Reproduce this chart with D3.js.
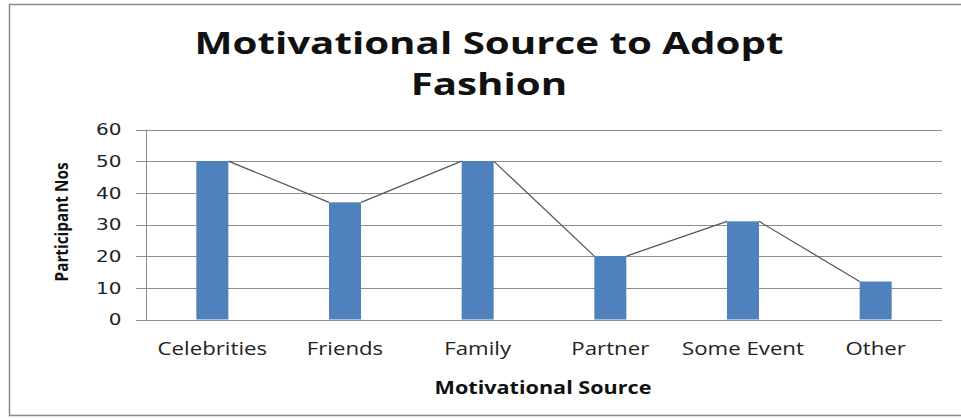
<!DOCTYPE html>
<html>
<head>
<meta charset="utf-8">
<script src="https://cdn.jsdelivr.net/npm/d3@7/dist/d3.min.js"></script>
<style>
  html, body { margin: 0; padding: 0; background: #fff; }
  svg { display: block; }
</style>
</head>
<body>
<svg id="chart" width="961" height="419"></svg>
<script>
// Participants by motivational source
const categories = ["Celebrities", "Friends", "Family", "Partner", "Some Event", "Other"];
const participants = [50, 37, 50, 20, 31, 12];
const yTicks = [0, 10, 20, 30, 40, 50, 60];
const titleLines = ["Motivational Source to Adopt", "Fashion"];

const svg = d3.select("#chart");
const W = 961;
const plot = { left: 146, right: 942, top: 129.5, bottom: 319.5 };
const widen = 1.27; // horizontal stretch applied to every horizontal label

// stretch a text horizontally by a fixed factor around its anchor
function stretch(sel, k) {
  sel.each(function () {
    const n = this.getComputedTextLength();
    d3.select(this).attr("textLength", n * k).attr("lengthAdjust", "spacingAndGlyphs");
  });
}

// outer frame
svg.append("rect")
  .attr("x", 9.5).attr("y", 4.5)
  .attr("width", W + 10).attr("height", 411)
  .attr("fill", "#fff").attr("stroke", "#8a8a8a").attr("stroke-width", 1.5);

const x = d3.scaleBand().domain(categories).range([plot.left, plot.right]).paddingInner(0).paddingOuter(0);
const y = d3.scaleLinear().domain([0, 60]).range([plot.bottom, plot.top]);
const barW = 32;

// horizontal gridlines with tick stubs
svg.append("g").selectAll("line").data(yTicks).join("line")
  .attr("x1", plot.left - 10).attr("x2", plot.right)
  .attr("y1", d => Math.round(y(d)) + 0.5).attr("y2", d => Math.round(y(d)) + 0.5)
  .attr("stroke", "#8c8c8c").attr("stroke-width", 1);

// y axis line
svg.append("line")
  .attr("x1", plot.left + 0.5).attr("x2", plot.left + 0.5)
  .attr("y1", plot.top).attr("y2", plot.bottom + 1)
  .attr("stroke", "#8c8c8c");

// y tick labels
svg.append("g").selectAll("text").data(yTicks).join("text")
  .attr("x", 121.5).attr("y", d => y(d))
  .attr("dy", "0.36em")
  .attr("text-anchor", "end")
  .attr("font-family", "'DejaVu Sans', Verdana, sans-serif")
  .attr("font-size", 16)
  .attr("fill", "#222")
  .text(d => d)
  .call(stretch, 1.25);

// bars
svg.append("g").selectAll("rect").data(participants).join("rect")
  .attr("x", (d, i) => x(categories[i]) + x.bandwidth() / 2 - barW / 2)
  .attr("y", d => y(d))
  .attr("width", barW)
  .attr("height", d => y(0) - y(d))
  .attr("fill", "#4f81bd");

// connector lines between neighbouring bar tops
const segs = d3.pairs(participants.map((v, i) => ({ v, c: categories[i] })));
svg.append("g").selectAll("line").data(segs).join("line")
  .attr("x1", d => x(d[0].c) + x.bandwidth() / 2 + barW / 2)
  .attr("y1", d => y(d[0].v))
  .attr("x2", d => x(d[1].c) + x.bandwidth() / 2 - barW / 2)
  .attr("y2", d => y(d[1].v))
  .attr("stroke", "#555").attr("stroke-width", 1.2);

// category labels
svg.append("g").selectAll("text").data(categories).join("text")
  .attr("x", d => x(d) + x.bandwidth() / 2)
  .attr("y", 355)
  .attr("text-anchor", "middle")
  .attr("font-family", "'Open Sans', sans-serif")
  .attr("font-size", 17.5)
  .attr("fill", "#222")
  .text(d => d)
  .call(stretch, widen);

// axis titles
svg.append("text")
  .attr("x", 543).attr("y", 394)
  .attr("text-anchor", "middle")
  .attr("font-family", "'Open Sans', sans-serif")
  .attr("font-weight", "bold")
  .attr("font-size", 17)
  .attr("fill", "#111")
  .text("Motivational Source")
  .call(stretch, widen);

svg.append("text")
  .attr("transform", "translate(67.5,222) rotate(-90)")
  .attr("text-anchor", "middle")
  .attr("font-family", "'Open Sans', sans-serif")
  .attr("font-weight", "bold")
  .attr("font-size", 18.5)
  .attr("textLength", 119).attr("lengthAdjust", "spacingAndGlyphs")
  .attr("fill", "#111")
  .text("Participant Nos");

// chart title
svg.append("g").selectAll("text").data(titleLines).join("text")
  .attr("x", 489)
  .attr("y", (d, i) => 53.5 + i * 41.5)
  .attr("text-anchor", "middle")
  .attr("font-family", "'Open Sans', sans-serif")
  .attr("font-weight", "bold")
  .attr("font-size", 30.5)
  .attr("fill", "#111")
  .text(d => d)
  .call(stretch, 1.32);
</script>
</body>
</html>
